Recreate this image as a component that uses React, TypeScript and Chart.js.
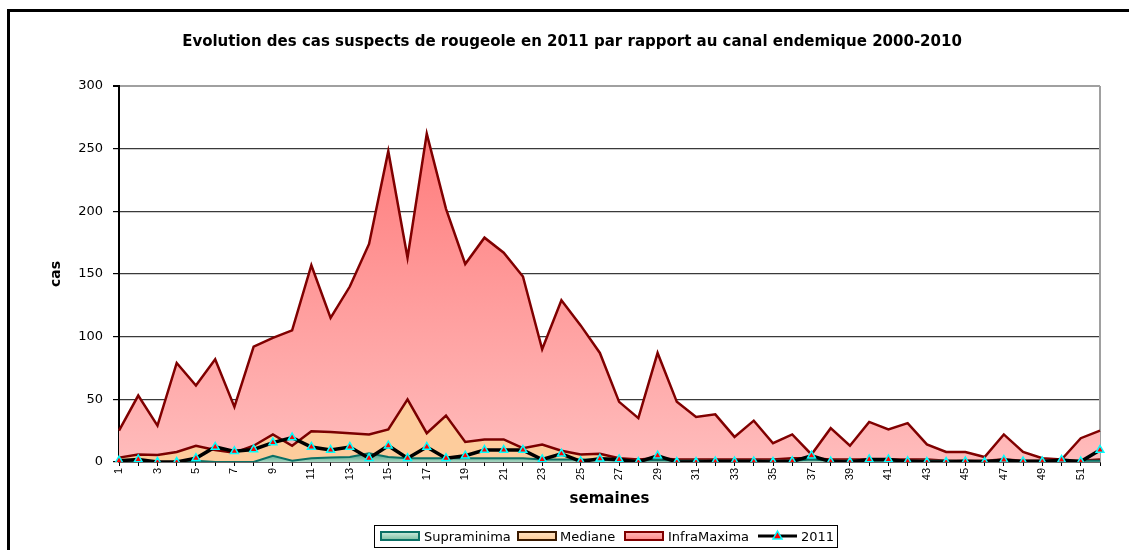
import React, { useEffect, useRef } from "react";
import { Chart, registerables } from "chart.js";

Chart.register(...registerables);

const weeks: string[] = Array.from({ length: 52 }, (_, i) => String(i + 1));

const infraMaxima: number[] = [
  25, 53, 29, 79, 61, 82, 44, 92, 99, 105, 157, 115, 140, 174, 248, 163, 262, 202, 158, 179,
  167, 148, 90, 129, 109, 87, 48, 35, 87, 48, 36, 38, 20, 33, 15, 22, 6, 27, 13, 32,
  26, 31, 14, 8, 8, 4, 22, 8, 3, 2, 19, 25,
];

const mediane: number[] = [
  3.5, 6, 5.5, 8, 13, 9.5, 7.5, 13, 22, 13, 24.5, 24, 23, 22, 26, 50, 23, 37, 16, 18,
  18, 11, 14, 9, 6, 6.5, 3, 2, 3, 2, 2, 2, 2, 2, 2, 3, 3, 2, 2, 2,
  2, 2, 2, 1, 1, 1, 2, 1, 1, 1, 1, 2,
];

const supraMinima: number[] = [
  0, 0, 0, 0, 1, 0, 0, 0, 5, 1, 3, 3.5, 4, 7, 4, 3, 3, 3, 3, 3,
  3, 3, 2, 2, 2, 2, 1, 1, 1.5, 1, 1, 1, 1, 1, 1, 1, 2, 1, 1, 1,
  1, 1, 1, 1, 1, 1, 1, 1, 1, 1, 1, 1,
];

const cases2011: number[] = [
  1, 2, 0, 0, 3, 12, 8.5, 10, 15.5, 19.5, 12, 9.5, 12, 3, 13, 3, 12, 3, 5, 9.5,
  9.5, 9.5, 2, 6.5, 0.5, 2.5, 2, 0, 5, 0, 0, 0.3, 0.3, 0.3, 0, 0.5, 5, 0.3, 0, 2,
  2, 0.5, 0, 0, 0.3, 0, 1.6, 0.3, 0.3, 1.6, 0.3, 9.5,
];

const yTicks: number[] = [0, 50, 100, 150, 200, 250, 300];

const TITLE = "Evolution des cas suspects de rougeole en 2011 par rapport au canal endemique 2000-2010";
const X_TITLE = "semaines";
const Y_TITLE = "cas";
const FONT = "'DejaVu Sans', 'Liberation Sans', Arial, sans-serif";
const TICK_FONT = "'Liberation Sans', Arial, sans-serif";

function infraGradient(ctx: any) {
  const chart = ctx.chart;
  const a = chart.chartArea;
  if (!a) return "#FFB0B0";
  const g = chart.ctx.createLinearGradient(0, a.top + 40, 0, a.bottom);
  g.addColorStop(0, "#FF7A7A");
  g.addColorStop(1, "#FFBCBC");
  return g;
}

function supraGradient(ctx: any) {
  const chart = ctx.chart;
  const a = chart.chartArea;
  if (!a) return "#6FB39A";
  const y = chart.scales.y;
  const g = chart.ctx.createLinearGradient(0, y.getPixelForValue(8), 0, a.bottom);
  g.addColorStop(0, "#3C9278");
  g.addColorStop(1, "#A6D6C0");
  return g;
}

const decorPlugin = {
  id: "decor",
  beforeDraw(chart: any) {
    const ctx = chart.ctx;
    ctx.save();
    ctx.fillStyle = "#FFFFFF";
    ctx.fillRect(0, 0, chart.width, chart.height);
    ctx.strokeStyle = "#000";
    ctx.lineWidth = 3;
    ctx.strokeRect(8.5, 10.5, 1300, 700);
    ctx.restore();
  },
  beforeDatasetsDraw(chart: any) {
    const ctx = chart.ctx;
    const a = chart.chartArea;
    ctx.save();
    ctx.strokeStyle = "#A0A0A0";
    ctx.lineWidth = 2;
    ctx.beginPath();
    ctx.moveTo(a.right, a.top);
    ctx.lineTo(a.right, a.bottom);
    ctx.stroke();
    ctx.restore();
  },
  afterDraw(chart: any) {
    const ctx = chart.ctx;
    const a = chart.chartArea;
    ctx.save();
    ctx.fillStyle = "#000";
    ctx.textBaseline = "alphabetic";
    ctx.textAlign = "center";
    ctx.font = `bold 15px ${FONT}`;
    ctx.fillText(TITLE, 572, 46);

    ctx.font = `bold 15px ${FONT}`;
    ctx.fillText(X_TITLE, (a.left + a.right) / 2, 503);

    ctx.save();
    ctx.translate(60, 274);
    ctx.rotate(-Math.PI / 2);
    ctx.font = `bold 14px ${FONT}`;
    ctx.fillText(Y_TITLE, 0, 0);
    ctx.restore();

    // Legend
    ctx.lineWidth = 1;
    ctx.strokeStyle = "#000";
    ctx.strokeRect(374.5, 525.5, 463, 22);
    ctx.font = `13px ${FONT}`;
    ctx.textAlign = "left";
    const cy = 536;
    const items = [
      { label: "Supraminima", x: 381, border: "#0B7065", top: "#CFEBDD", bot: "#7DBFA4", tx: 424 },
      { label: "Mediane", x: 518, border: "#3A1A00", top: "#FFE2C2", bot: "#FDCB98", tx: 560 },
      { label: "InfraMaxima", x: 625, border: "#800000", top: "#FFB8B8", bot: "#FF8A8A", tx: 668 },
    ];
    for (const it of items) {
      const g = ctx.createLinearGradient(0, cy - 4, 0, cy + 4);
      g.addColorStop(0, it.top);
      g.addColorStop(1, it.bot);
      ctx.fillStyle = g;
      ctx.fillRect(it.x, cy - 4, 38, 8);
      ctx.strokeStyle = it.border;
      ctx.lineWidth = 2;
      ctx.strokeRect(it.x, cy - 4, 38, 8);
      ctx.fillStyle = "#000";
      ctx.fillText(it.label, it.tx, cy + 5);
    }
    ctx.strokeStyle = "#000";
    ctx.lineWidth = 3;
    ctx.beginPath();
    ctx.moveTo(758, cy);
    ctx.lineTo(797, cy);
    ctx.stroke();
    ctx.beginPath();
    ctx.moveTo(777.5, cy - 5);
    ctx.lineTo(782, cy + 3);
    ctx.lineTo(773, cy + 3);
    ctx.closePath();
    ctx.fillStyle = "#FF0000";
    ctx.fill();
    ctx.strokeStyle = "#00FFFF";
    ctx.lineWidth = 1.5;
    ctx.stroke();
    ctx.fillStyle = "#000";
    ctx.fillText("2011", 801, cy + 5);
    ctx.restore();
  },
};

export default function App() {
  const ref = useRef<HTMLCanvasElement | null>(null);

  useEffect(() => {
    if (!ref.current) return;
    const chart = new Chart(ref.current, {
      type: "line",
      data: {
        labels: weeks,
        datasets: [
          {
            label: "Supraminima",
            data: supraMinima,
            order: 1,
            borderColor: "#0B7065",
            borderWidth: 2,
            backgroundColor: supraGradient as any,
            fill: "origin",
            pointRadius: 0,
            tension: 0,
          },
          {
            label: "Mediane",
            data: mediane,
            order: 2,
            borderColor: "#7A0000",
            borderWidth: 2.5,
            backgroundColor: "#FDCC9C",
            fill: "origin",
            pointRadius: 0,
            tension: 0,
          },
          {
            label: "InfraMaxima",
            data: infraMaxima,
            order: 3,
            borderColor: "#800000",
            borderWidth: 2.5,
            backgroundColor: infraGradient as any,
            fill: "origin",
            pointRadius: 0,
            tension: 0,
          },
          {
            label: "2011",
            data: cases2011,
            order: 0,
            borderColor: "#000000",
            borderWidth: 3.5,
            fill: false,
            pointStyle: "triangle",
            pointRadius: 4.5,
            pointBackgroundColor: "#FF0000",
            pointBorderColor: "#00FFFF",
            pointBorderWidth: 1.5,
            tension: 0,
          },
        ],
      },
      options: {
        animation: false,
        responsive: false,
        maintainAspectRatio: false,
        layout: { padding: { top: 86, right: 29, left: 0, bottom: 0 } },
        plugins: {
          legend: { display: false },
          title: { display: false },
          tooltip: { enabled: false },
        },
        scales: {
          x: {
            type: "category",
            offset: false,
            ticks: {
              autoSkip: false,
              minRotation: 90,
              maxRotation: 90,
              color: "#000",
              font: { family: TICK_FONT, size: 11 },
              padding: 2,
              callback: (_v: any, i: number) => (i % 2 === 0 ? weeks[i] : ""),
            },
            grid: {
              drawOnChartArea: false,
              drawTicks: true,
              tickLength: 4,
              tickColor: "#000",
            },
            border: { color: "#000", width: 1.5 },
            afterFit: (s: any) => {
              s.height = 88;
            },
          },
          y: {
            min: 0,
            max: 300,
            afterBuildTicks: (s: any) => {
              s.ticks = yTicks.map((v) => ({ value: v }));
            },
            ticks: {
              color: "#000",
              font: { family: FONT, size: 13 },
              padding: 10,
            },
            grid: {
              color: (c: any) => (c.tick && c.tick.value === 300 ? "#A0A0A0" : "#3A3A3A"),
              lineWidth: (c: any) => (c.tick && c.tick.value === 300 ? 2 : 1.2),
              tickColor: "#000",
              tickLength: 6,
            },
            border: { color: "#000", width: 2 },
            afterFit: (s: any) => {
              s.width = 119;
            },
          },
        },
      },
      plugins: [decorPlugin],
    });
    return () => chart.destroy();
  }, []);

  return (
    <div style={{ position: "fixed", left: 0, top: 0, width: 1129, height: 550, background: "#fff" }}>
      <canvas ref={ref} width={1129} height={550} style={{ display: "block", width: 1129, height: 550 }} />
    </div>
  );
}
